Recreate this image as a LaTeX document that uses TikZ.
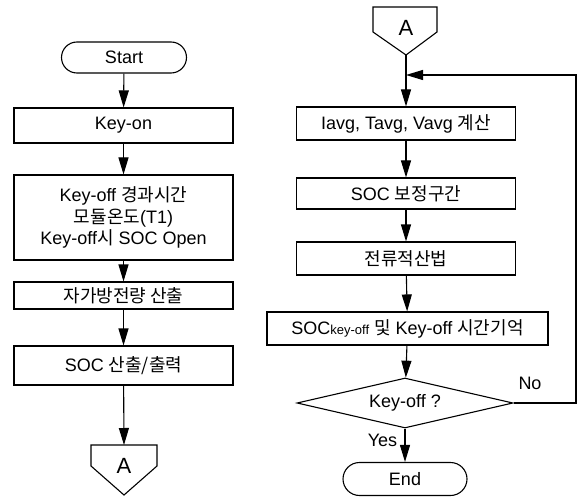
\documentclass[tikz,border=0pt]{standalone}
\usepackage{fontspec}
\setmainfont{Liberation Sans}
\newfontfamily\hangulfont{Noto Sans CJK KR}
\newcommand\hg[1]{{\hangulfont #1}}
\usetikzlibrary{shapes.misc,shapes.geometric,arrows.meta}
\begin{document}
\begin{tikzpicture}[x=1pt,y=-1pt,
  every node/.style={font=\fontsize{18}{21.5}\selectfont},
  stepbox/.style={draw,line width=1.1pt,rectangle,minimum width=219pt,inner sep=0pt,align=center},
  term/.style={draw,line width=1.1pt,rounded rectangle,inner sep=0pt},
  arr/.style={line width=1.1pt,-{Triangle[length=17pt,width=10pt]}},
  ln/.style={line width=1.1pt}]
\useasboundingbox (0,0) rectangle (578,497);
% left column
\node[term,minimum width=125pt,minimum height=31pt] (start) at (124,57.5) {Start};
\node[stepbox,minimum height=35pt] (keyon) at (123.5,125.5) {Key-on};
\node[stepbox,minimum height=85pt] (info) at (123.5,217.5) {Key-off \hg{경과시간}\\\hg{모듈온도}(T1)\\Key-off\hg{시} SOC Open};
\node[stepbox,minimum height=27pt] (self) at (123.5,295.5) {\hg{자가방전량 산출}};
\node[stepbox,minimum height=39pt] (socout) at (123.5,365.5) {SOC \hg{산출/출력}};
\coordinate (a1top) at (124,445);
\draw[ln] (91,445) -- (157,445) -- (157,466) -- (124,495) -- (91,466) -- cycle;
\node[font=\fontsize{22}{22}\selectfont] (a1) at (124,466) {A};
\draw[arr] (start) -- (keyon);
\draw[arr] (keyon) -- (info);
\draw[arr] (info) -- (self);
\draw[arr] (self) -- (socout);
\draw[arr] (socout) -- (a1top);
% right column
\draw[ln] (373,7) -- (437,7) -- (437,32) -- (406,55) -- (373,32) -- cycle;
\node[font=\fontsize{22}{22}\selectfont] (a2) at (406,28) {A};
\coordinate (a2tip) at (406,55);
\coordinate (join) at (406,75);
\node[stepbox,minimum height=33pt] (avg) at (406,123.5) {Iavg, Tavg, Vavg \hg{계산}};
\node[stepbox,minimum height=31pt] (corr) at (406,193.5) {SOC \hg{보정구간}};
\node[stepbox,minimum height=33pt] (integ) at (406,258.5) {\hg{전류적산법}};
\node[stepbox,minimum width=281pt,minimum height=33pt] (store) at (407.5,328.5) {SOC{\fontsize{13}{13}\selectfont key-off} \hg{및} Key-off \hg{시간기억}};
\node[draw,line width=1.1pt,diamond,aspect=4.3,minimum width=216pt,minimum height=50pt,inner sep=0pt] (dec) at (405,403) {Key-off ?};
\node[term,minimum width=124pt,minimum height=33pt] (end) at (405,479) {End};
\coordinate (rc) at (576,403);
\coordinate (rt) at (576,75);
\draw[arr] (a2tip) -- (avg);
\draw[arr] (avg) -- (corr);
\draw[arr] (corr) -- (integ);
\draw[arr] (integ) -- (store);
\draw[arr] (store) -- (dec);
\draw[arr] (dec) -- node[left=4pt,pos=0.35] (yes) {Yes} (end);
\draw[arr] (dec.east) -- (rc) -- (rt) -- (join);
\node (no) at (530,383) {No};
\end{tikzpicture}
\end{document}
